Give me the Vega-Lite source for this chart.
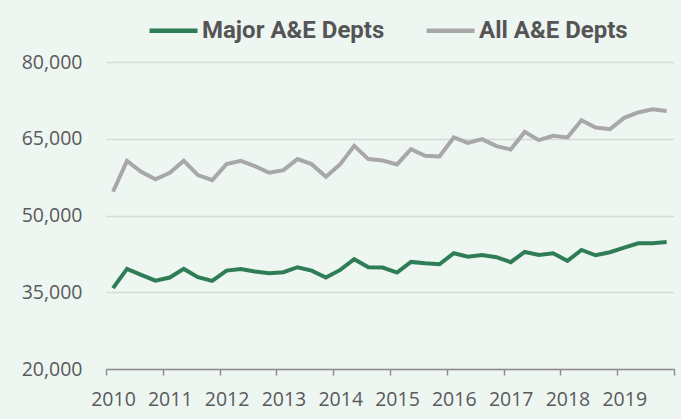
{
  "$schema": "https://vega.github.io/schema/vega-lite/v6.json",
  "autosize": "none",
  "padding": {"left": 106, "top": 62, "right": 7, "bottom": 50},
  "width": 568,
  "height": 307,
  "background": "#eef6f2",
  "config": {
    "view": {"stroke": null},
    "font": "Open Sans",
    "axis": {"labelFont": "Open Sans", "labelColor": "#5a5a5a", "labelFontSize": 19.5}
  },
  "data": {
    "values": [
      {"date": "2010-02-15", "Major A&E Depts": 35800, "All A&E Depts": 54640},
      {"date": "2010-05-16", "Major A&E Depts": 39560, "All A&E Depts": 60690},
      {"date": "2010-08-15", "Major A&E Depts": 38390, "All A&E Depts": 58540},
      {"date": "2010-11-15", "Major A&E Depts": 37280, "All A&E Depts": 57060},
      {"date": "2011-02-15", "Major A&E Depts": 37870, "All A&E Depts": 58350},
      {"date": "2011-05-16", "Major A&E Depts": 39560, "All A&E Depts": 60690},
      {"date": "2011-08-15", "Major A&E Depts": 37940, "All A&E Depts": 57900},
      {"date": "2011-11-15", "Major A&E Depts": 37220, "All A&E Depts": 56920},
      {"date": "2012-02-15", "Major A&E Depts": 39230, "All A&E Depts": 60040},
      {"date": "2012-05-16", "Major A&E Depts": 39560, "All A&E Depts": 60690},
      {"date": "2012-08-15", "Major A&E Depts": 39040, "All A&E Depts": 59650},
      {"date": "2012-11-15", "Major A&E Depts": 38720, "All A&E Depts": 58350},
      {"date": "2013-02-15", "Major A&E Depts": 38920, "All A&E Depts": 58870},
      {"date": "2013-05-16", "Major A&E Depts": 39890, "All A&E Depts": 61020},
      {"date": "2013-08-15", "Major A&E Depts": 39230, "All A&E Depts": 60040},
      {"date": "2013-11-15", "Major A&E Depts": 37870, "All A&E Depts": 57570},
      {"date": "2014-02-15", "Major A&E Depts": 39370, "All A&E Depts": 60040},
      {"date": "2014-05-16", "Major A&E Depts": 41450, "All A&E Depts": 63610},
      {"date": "2014-08-15", "Major A&E Depts": 39890, "All A&E Depts": 61020},
      {"date": "2014-11-15", "Major A&E Depts": 39820, "All A&E Depts": 60750},
      {"date": "2015-02-15", "Major A&E Depts": 38840, "All A&E Depts": 59980},
      {"date": "2015-05-16", "Major A&E Depts": 40930, "All A&E Depts": 62970},
      {"date": "2015-08-15", "Major A&E Depts": 40670, "All A&E Depts": 61660},
      {"date": "2015-11-15", "Major A&E Depts": 40480, "All A&E Depts": 61550},
      {"date": "2016-02-15", "Major A&E Depts": 42630, "All A&E Depts": 65250},
      {"date": "2016-05-16", "Major A&E Depts": 41960, "All A&E Depts": 64200},
      {"date": "2016-08-15", "Major A&E Depts": 42290, "All A&E Depts": 64920},
      {"date": "2016-11-15", "Major A&E Depts": 41850, "All A&E Depts": 63550},
      {"date": "2017-02-15", "Major A&E Depts": 40870, "All A&E Depts": 62910},
      {"date": "2017-05-16", "Major A&E Depts": 42880, "All A&E Depts": 66340},
      {"date": "2017-08-15", "Major A&E Depts": 42290, "All A&E Depts": 64720},
      {"date": "2017-11-15", "Major A&E Depts": 42630, "All A&E Depts": 65560},
      {"date": "2018-02-15", "Major A&E Depts": 41120, "All A&E Depts": 65250},
      {"date": "2018-05-16", "Major A&E Depts": 43270, "All A&E Depts": 68630},
      {"date": "2018-08-15", "Major A&E Depts": 42230, "All A&E Depts": 67200},
      {"date": "2018-11-15", "Major A&E Depts": 42820, "All A&E Depts": 66870},
      {"date": "2019-02-15", "Major A&E Depts": 43720, "All A&E Depts": 69080},
      {"date": "2019-05-16", "Major A&E Depts": 44580, "All A&E Depts": 70130},
      {"date": "2019-08-15", "Major A&E Depts": 44580, "All A&E Depts": 70770},
      {"date": "2019-11-15", "Major A&E Depts": 44830, "All A&E Depts": 70440}
    ]
  },
  "transform": [
    {"fold": ["Major A&E Depts", "All A&E Depts"], "as": ["series", "value"]}
  ],
  "mark": {"type": "line", "strokeWidth": 4, "strokeJoin": "miter", "strokeCap": "butt"},
  "encoding": {
    "x": {
      "field": "date",
      "type": "temporal",
      "scale": {
        "type": "utc",
        "domain": [{"year": 2010, "month": 1, "date": 1, "utc": true}, {"year": 2020, "month": 1, "date": 1, "utc": true}]
      },
      "axis": {
        "title": null,
        "values": [
          {"year": 2010, "utc": true}, {"year": 2011, "utc": true}, {"year": 2012, "utc": true},
          {"year": 2013, "utc": true}, {"year": 2014, "utc": true}, {"year": 2015, "utc": true},
          {"year": 2016, "utc": true}, {"year": 2017, "utc": true}, {"year": 2018, "utc": true},
          {"year": 2019, "utc": true}, {"year": 2020, "utc": true}
        ],
        "labelExpr": "utcyear(datum.value) == 2020 ? '' : utcFormat(datum.value, '%Y')",
        "labelOffset": 7,
        "labelAlign": "center",
        "labelFlush": false,
        "labelOverlap": false,
        "grid": false,
        "domainColor": "#8c8c8c",
        "domainWidth": 1.5,
        "tickColor": "#8c8c8c",
        "tickWidth": 1.5,
        "tickSize": 6,
        "labelPadding": 15
      }
    },
    "y": {
      "field": "value",
      "type": "quantitative",
      "scale": {"domain": [20000, 80000]},
      "axis": {
        "title": null,
        "values": [20000, 35000, 50000, 65000, 80000],
        "format": ",d",
        "domain": false,
        "ticks": false,
        "labelPadding": 24,
        "gridColor": "#d5dcd8",
        "gridWidth": 1.5
      }
    },
    "color": {
      "field": "series",
      "type": "nominal",
      "scale": {"domain": ["Major A&E Depts", "All A&E Depts"], "range": ["#2f7d56", "#a8a8a8"]},
      "legend": {
        "title": null,
        "orient": "none",
        "direction": "horizontal",
        "legendX": 41,
        "legendY": -58,
        "padding": 0,
        "symbolType": "stroke",
        "symbolSize": 2304,
        "symbolStrokeWidth": 4.5,
        "labelFont": "Roboto",
        "labelFontWeight": "bold",
        "labelFontSize": 24,
        "labelColor": "#555555",
        "labelLimit": 400,
        "labelOffset": 2,
        "columnPadding": 32
      }
    }
  }
}
